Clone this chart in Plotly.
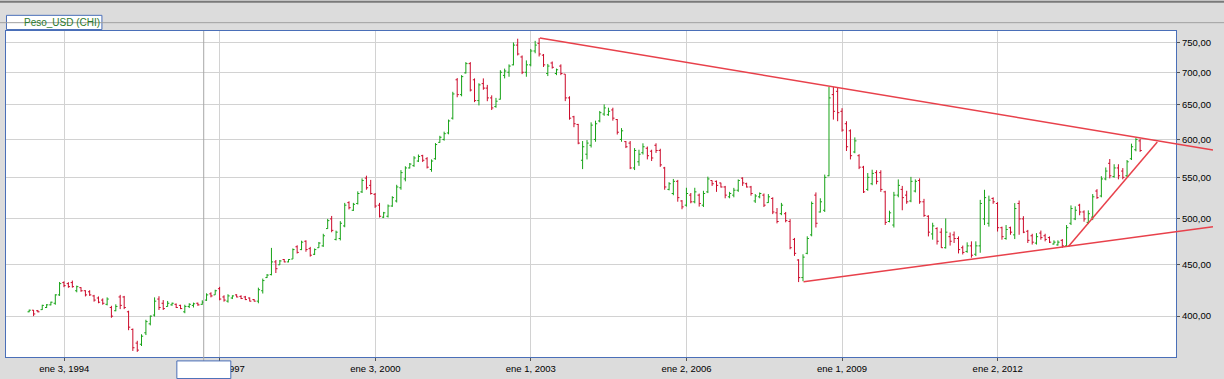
import math
import pandas as pd
import plotly.graph_objects as go

# ---------------- data (monthly OHLC, Peso_USD (CHI)) ----------------
START_MONTH = "1993-05-01"

OPEN = [
    404, 405.5, 405, 406, 408, 410.5, 412, 420,                                   # 1993 May-Dec
    432, 431, 432, 424, 427, 424, 423, 419, 417, 415, 411, 408,                   # 1994
    405, 418, 418, 404, 388, 376, 375, 385, 393, 401, 416, 412,                   # 1995
    409, 410.5, 411, 410, 404, 409, 410, 412, 411, 415, 421, 420,                 # 1996
    426, 418, 414, 417, 420, 418.5, 418, 417, 415.5, 414, 424, 437,               # 1997
    440, 453, 450, 455.5, 453, 456, 469, 466, 475, 467, 461, 468,                 # 1998
    470, 489, 500, 477, 478, 492, 519, 510, 518, 532, 549, 540,                   # 1999
    529, 516, 502, 503, 515, 521, 537, 548, 562, 565, 571, 578,                   # 2000
    574, 560, 574, 596, 600, 609, 630, 688, 665, 699, 714, 688,                   # 2001
    656, 682, 675, 660, 647, 658, 695, 700, 712, 745, 725, 700,                   # 2002
    712, 735, 748, 728, 698, 715, 698, 710, 697, 660, 632, 621,                   # 2003
    572, 580, 592, 600, 626, 636, 635, 642, 628, 600, 597, 595,                   # 2004
    562, 570, 582, 588, 584, 592, 585, 562, 535, 530, 545, 521,                   # 2005
    516, 528, 520, 528, 516, 532, 546, 545, 543, 538, 526, 528,                   # 2006
    534, 549, 542, 538, 521, 526, 528, 519, 524, 507, 506, 506,                   # 2007
    497, 477, 455, 437, 462, 482, 528, 508, 510, 552, 665, 670,                   # 2008
    640, 622, 612, 583, 578, 563, 535, 542, 556, 556, 532, 497,                   # 2009
    493, 528, 535, 528, 521, 533, 546, 520, 503, 483, 489, 485,                   # 2010
    468, 480, 482, 478, 468, 464, 470, 461, 470, 500, 495, 524,                   # 2011
    518, 490, 478, 490, 482, 518, 500, 486, 481, 473, 484, 481,                   # 2012
    479, 472, 471, 476, 470, 495, 500, 516, 508, 496, 502, 533,                   # 2013
    527, 548, 568, 551, 562, 558, 552, 574, 586, 598,                             # 2014 Jan-Oct
]
HIGH = [
    406, 405.7, 405.7, 410.6, 411.2, 413.5, 420.6, 432.6,
    433.3, 432.4, 434, 429, 427.5, 424.5, 424.5, 420, 418.5, 416.6, 417.6, 409.6,
    411, 420, 419, 405, 388.8, 378, 383.7, 396.7, 400.6, 417.6, 418.7, 415,
    414.2, 412.6, 411.8, 410.6, 410.6, 412, 412.6, 412.6, 414.8, 421.5, 422.5, 425,
    427.8, 419.6, 420.6, 419.6, 420.6, 419.6, 419, 417.5, 416, 427, 436, 440.6,
    467.8, 455, 455, 456, 456, 467.2, 470.6, 475.6, 476, 468.9, 467.2, 474.2,
    483.2, 500, 503.4, 486.7, 497.4, 518.7, 520.6, 518.7, 532.6, 548.7, 552.1, 546.8,
    530.6, 518.7, 508.1, 516.8, 526.7, 540.7, 559.2, 564.2, 568.4, 577.4, 579.6, 579.2,
    576.1, 573.1, 595, 605, 610.8, 628, 669.3, 690.8, 695.4, 716.5, 716.5, 690.2,
    682.5, 690.2, 680, 663.9, 660, 703.3, 705.9, 712.8, 749.5, 756, 727.5, 719.3,
    738.4, 752.3, 757.3, 730, 713.5, 717.5, 705.9, 712.8, 697, 662.4, 633.4, 621.8,
    597.8, 599.1, 624, 626.4, 640.5, 650.2, 645.3, 645.3, 628.7, 615.8, 597.8, 597.8,
    588.2, 586, 594.7, 590.3, 586, 594.7, 587.3, 563.4, 543.9, 548, 546.8, 522,
    537, 530.6, 537, 529.9, 533.3, 550.9, 546, 546, 543.3, 539.3, 532, 536.9,
    547.4, 550, 543.3, 539.3, 529.3, 531.3, 530, 529.3, 525.4, 512.6, 518.7, 508,
    499.7, 478.6, 455.8, 461, 480.4, 520.3, 531.3, 524.2, 553.5, 676.9, 676.9, 675.4,
    644.6, 625.6, 614, 602.8, 580, 564.7, 555.5, 559.7, 559, 559, 533.3, 509.5,
    532, 547.4, 539.3, 533.3, 550.6, 547.4, 548.7, 523.5, 504.2, 495.6, 490.5, 489.4,
    500.5, 484.6, 485.7, 480.3, 470.3, 473.8, 474.9, 474.9, 522.3, 534.5, 527.4, 525.4,
    519.6, 491.2, 493, 491.2, 518.4, 521.5, 503.1, 487.5, 483.2, 483.9, 486.8, 483.2,
    480.3, 476, 476, 477.4, 493, 515.7, 514.6, 517.6, 509.9, 509.9, 529.3, 535.3,
    551.5, 562.6, 573.6, 566.8, 566.8, 561.8, 572.3, 594.2, 601.8, 600.9,
]
LOW = [
    403.6, 400, 403.5, 405.7, 407.5, 410, 410.6, 419,
    427.5, 426.9, 427, 422.5, 423, 418.5, 419, 413.5, 412, 410.6, 410, 398.5,
    404.5, 406.5, 406.5, 387.3, 369.3, 368.5, 373.5, 383, 391.6, 399.7, 405.7, 405.7,
    408.8, 409.6, 407.5, 406.5, 402.7, 407.5, 408, 409.6, 410.6, 414.2, 417.6, 420,
    414.8, 413.5, 412.6, 416, 417.6, 416, 415, 413.7, 413.7, 412, 421.3, 436.6,
    439.2, 441.6, 449.8, 452.6, 452.6, 456, 461.8, 465.4, 463.7, 458.5, 460.2, 467.8,
    468.9, 488.7, 484.9, 475.9, 475.9, 490.5, 511, 509.2, 516.8, 530.6, 534.6, 528.7,
    512.8, 501.6, 501, 501.6, 514, 519.2, 534.6, 545, 561.3, 563.4, 569.7, 569.7,
    561.3, 557.1, 572.7, 595.4, 598.3, 607.1, 628, 661, 662.4, 698, 669.8, 653.6,
    648.7, 672.4, 655, 641.9, 645.3, 657.5, 690.2, 692.8, 711.2, 727.5, 697, 692.8,
    709.6, 731.2, 725.8, 708.5, 693.9, 705.9, 695.4, 695.4, 655.1, 627.8, 617.1, 593.4,
    560.5, 573.1, 589, 596.8, 624, 633.4, 633.4, 626.4, 606.8, 596.8, 588.2, 560.5,
    559.3, 564.7, 579.6, 573.1, 571, 581.7, 563.4, 534.6, 533.8, 527.9, 520.1, 511.2,
    514.3, 518.2, 518.2, 514.3, 513.8, 530.5, 539.3, 532, 537.3, 524.2, 524.2, 525.4,
    532, 539.3, 537.3, 527.4, 518.7, 524.2, 513.8, 518.7, 505.5, 494.9, 504.3, 496.1,
    466.3, 459.3, 432.5, 433.4, 461, 480.4, 490.2, 507.3, 508, 551.4, 627.9, 625.6,
    610.8, 584.3, 573.1, 581.3, 560.5, 530.6, 533.3, 540.2, 541.3, 532, 493.1, 496.1,
    490.2, 525.4, 510, 517.6, 519.5, 531.3, 517.6, 502.3, 480.3, 476.7, 471.4, 467.8,
    467.1, 470.3, 473.1, 461.9, 460.8, 462.6, 457.4, 459.1, 462.6, 493, 491.2, 517.6,
    485.7, 476.7, 476.7, 482.1, 477.4, 482.1, 483.9, 473.1, 471.4, 471.4, 476.7, 474.9,
    473.1, 471.4, 470.3, 467.8, 469.6, 493, 498.6, 504.2, 496.8, 494.1, 498.6, 523.5,
    525.4, 546.3, 548.7, 549.5, 547.5, 547.5, 550.3, 572.3, 583.9, 583.1,
]
CLOSE = [
    405.5, 402, 404, 410, 410.5, 413, 420, 431,
    429, 428, 428, 428, 424, 420, 420, 415, 413, 412, 416, 400,
    409, 410, 408, 390, 372, 370, 382, 395, 400, 414, 408, 407,
    412, 412, 408, 407, 409, 411, 411.5, 410.5, 413, 420, 419, 424,
    416, 415, 419, 419, 418, 416.5, 415.5, 414, 414, 425, 434, 439.5,
    453, 446, 454, 453, 455.5, 466, 463, 474, 466, 460, 466, 473,
    481, 498, 487, 485, 495, 516, 513, 517, 530, 546, 537, 530,
    515, 503, 507, 515, 525, 538, 556, 562, 567, 575, 577, 572,
    563, 571, 593, 603, 608, 626, 666, 665, 693, 714, 672, 656,
    680, 675, 660, 645, 655, 700, 702, 710, 745, 730, 700, 712,
    735, 745, 730, 712, 710, 708, 704, 698, 660, 630, 622, 595,
    590, 595, 620, 622, 638, 645, 640, 630, 610, 612, 590, 562,
    585, 580, 590, 578, 575, 585, 566, 538, 542, 545, 525, 514,
    530, 520, 532, 518, 530, 548, 542, 540, 538, 528, 530, 534,
    546, 543, 538, 530, 527, 530, 516, 526, 508, 497, 516, 498,
    468, 462, 437, 458, 478, 518, 495, 520, 550, 660, 640, 638,
    613, 590, 578, 598, 563, 532, 550, 555, 545, 535, 496, 507,
    528, 540, 525, 520, 545, 545, 520, 504, 485, 492, 475, 468,
    485, 475, 478, 466, 463, 470, 460, 470, 518, 525, 522, 520,
    490, 480, 488, 485, 512, 500, 485, 476, 474, 480, 479, 477,
    474, 474, 474, 470, 490, 512, 510, 508, 500, 506, 526, 525,
    548, 558, 552, 562, 552, 550, 570, 590, 600, 585,
]

DATES = pd.date_range(START_MONTH, periods=len(OPEN), freq="MS")

X_TICK_DATES = ["1994-01-03", "1997-01-02", "2000-01-03", "2003-01-01",
                "2006-01-02", "2009-01-01", "2012-01-02"]
X_TICK_TEXT = ["ene 3, 1994", "ene 2, 1997", "ene 3, 2000", "ene 1, 2003",
               "ene 2, 2006", "ene 1, 2009", "ene 2, 2012"]

Y_TICKS = [400, 450, 500, 550, 600, 650, 700, 750]
Y_TICK_TEXT = ["400,00", "450,00", "500,00", "550,00", "600,00", "650,00", "700,00", "750,00"]

# hand-drawn trend lines (date, value)
TREND_UPPER_X = ["2003-03-06", "2016-02-26"]
TREND_UPPER_Y = [757.3, 585.6]
TREND_LOWER_X = ["2008-04-05", "2016-02-26"]
TREND_LOWER_Y = [432.8, 491.0]
TREND_STEEP_X = ["2013-05-14", "2015-01-30"]
TREND_STEEP_Y = [469.2, 596.5]

CURSOR_DATE = "1996-09-11"
LEGEND_TEXT = "Peso_USD (CHI)"

# ---------------- layout calibration ----------------
W, H = 1224, 379
ML, MR, MT, MB = 5, 11, 31, 15
PW = W - ML - MR          # 1208
PH = H - MT - MB          # 333
AXIS_RIGHT_PX = 1176
DOM_END = (AXIS_RIGHT_PX - ML) / PW

ANCHOR = pd.Timestamp("1994-01-03")
ANCHOR_PX = 63.3
PPD = 0.14213  # pixels per day


def px_to_date(px):
    return ANCHOR + pd.Timedelta(days=(px - ANCHOR_PX) / PPD)


X_LEFT = px_to_date(ML)
X_RIGHT = px_to_date(AXIS_RIGHT_PX)
X2_RIGHT = px_to_date(ML + PW)

Y_RANGE = [math.log10(364.2), math.log10(769.5)]

BG = "#dcdcdc"
BLUE = "#4a6fb8"
GRID = "#d2d2d2"
FONT = "Liberation Sans"
TREND_COLOR = "#e8414b"


def py(px):  # pixel y -> paper y
    return (H - MB - px) / PH


def pxx(px):  # pixel x -> paper x
    return (px - ML) / PW


fig = go.Figure()

fig.add_trace(go.Ohlc(
    x=DATES, open=OPEN, high=HIGH, low=LOW, close=CLOSE,
    increasing=dict(line=dict(color="#17a317", width=1)),
    decreasing=dict(line=dict(color="#cc0a2a", width=1)),
    tickwidth=0.42, hoverinfo="skip", showlegend=False,
    xaxis="x", yaxis="y",
))

for tx, ty in [(TREND_UPPER_X, TREND_UPPER_Y), (TREND_LOWER_X, TREND_LOWER_Y),
               (TREND_STEEP_X, TREND_STEEP_Y)]:
    fig.add_trace(go.Scatter(
        x=tx, y=ty, mode="lines", line=dict(color=TREND_COLOR, width=1.5),
        hoverinfo="skip", showlegend=False, xaxis="x2", yaxis="y2",
    ))

shapes = [
    # white plotting area
    dict(type="rect", xref="paper", yref="paper", x0=0, x1=DOM_END, y0=0, y1=1,
         fillcolor="white", line=dict(width=0), layer="below"),
    # cursor line
    dict(type="line", xref="x", yref="paper", x0=CURSOR_DATE, x1=CURSOR_DATE,
         y0=py(368), y1=1, line=dict(color="#a8a8a8", width=1), layer="above"),
    # input box over the x labels
    dict(type="rect", xref="paper", yref="paper", x0=pxx(176), x1=pxx(230),
         y0=py(368), y1=py(386), fillcolor="white", line=dict(color=BLUE, width=1),
         layer="above"),
    # top dark edge
    dict(type="line", xref="paper", yref="paper", x0=pxx(-2), x1=pxx(W + 2),
         y0=py(1), y1=py(1), line=dict(color="#7a7a7a", width=2), layer="above"),
    # legend box
    dict(type="rect", xref="paper", yref="paper", x0=pxx(5.5), x1=pxx(101),
         y0=py(29.5), y1=py(15), fillcolor="white", line=dict(color=BLUE, width=1),
         layer="above"),
    # horizontal header line
    dict(type="line", xref="paper", yref="paper", x0=pxx(-2), x1=pxx(W + 2),
         y0=py(22.5), y1=py(22.5), line=dict(color="#a0a0a0", width=1), layer="above"),
]

fig.update_layout(
    width=W, height=H,
    margin=dict(l=ML, r=MR, t=MT, b=MB, pad=0),
    paper_bgcolor=BG, plot_bgcolor="rgba(0,0,0,0)",
    font=dict(family=FONT, size=9.5, color="#000000"),
    showlegend=False,
    xaxis=dict(
        type="date", domain=[0, DOM_END], anchor="y", range=[X_LEFT, X_RIGHT],
        tickvals=X_TICK_DATES, ticktext=X_TICK_TEXT,
        showgrid=True, gridcolor=GRID, gridwidth=1,
        showline=True, linecolor=BLUE, linewidth=1, mirror=True,
        ticks="outside", ticklen=3, tickcolor="#555555",
        tickfont=dict(family=FONT, size=9.5, color="#000000"),
        zeroline=False, rangeslider=dict(visible=False), fixedrange=True,
    ),
    yaxis=dict(
        type="log", domain=[0, 1], anchor="x", side="right", range=Y_RANGE,
        tickvals=Y_TICKS, ticktext=Y_TICK_TEXT,
        showgrid=True, gridcolor=GRID, gridwidth=1,
        showline=True, linecolor=BLUE, linewidth=1, mirror=True,
        ticks="outside", ticklen=3, tickcolor="#555555",
        tickfont=dict(family=FONT, size=9.5, color="#000000"),
        zeroline=False, fixedrange=True,
    ),
    xaxis2=dict(type="date", domain=[0, 1], anchor="y2", range=[X_LEFT, X2_RIGHT],
                visible=False, showgrid=False, fixedrange=True),
    yaxis2=dict(type="log", domain=[0, 1], anchor="x2", range=Y_RANGE,
                visible=False, showgrid=False, fixedrange=True),
    shapes=shapes,
    annotations=[
        dict(text=LEGEND_TEXT, xref="paper", yref="paper", x=pxx(21), y=py(22.5),
             xanchor="left", yanchor="middle", showarrow=False,
             font=dict(family=FONT, size=10, color="#2b7a2b")),
    ],
)

fig.write_html(
    "out.html",
    config={"displayModeBar": False},
    post_script="document.body.style.margin='0';document.body.style.padding='0';",
)
